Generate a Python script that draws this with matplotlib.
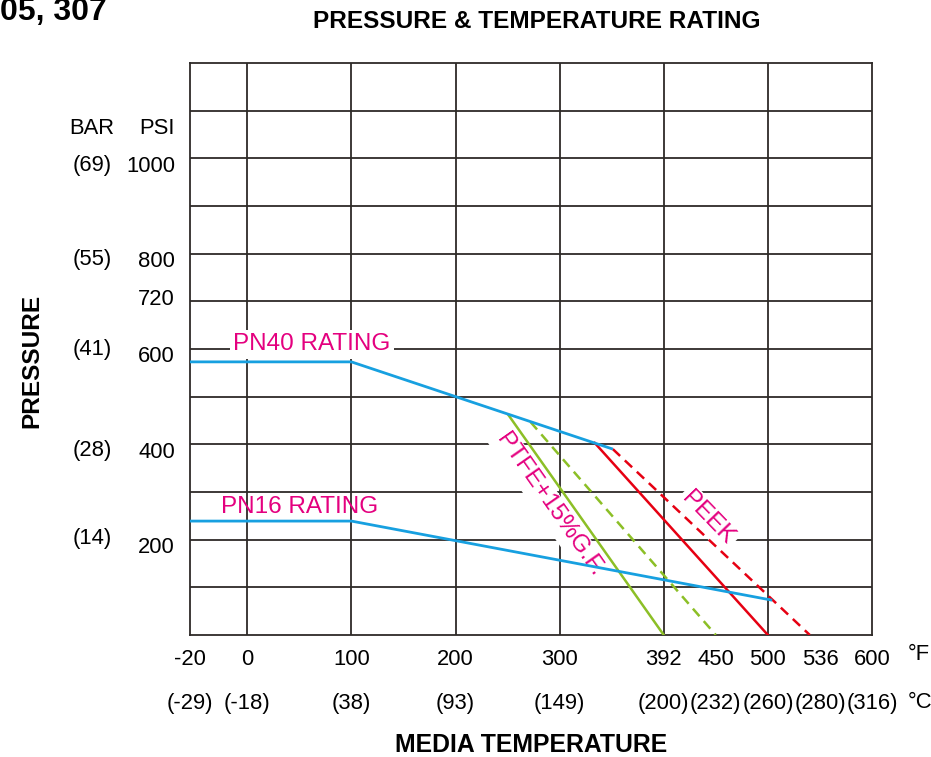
import numpy as np
import matplotlib
matplotlib.use('Agg')
import matplotlib.pyplot as plt
import matplotlib.transforms as mtransforms

plt.rcParams['font.family'] = ['Liberation Sans', 'DejaVu Sans']

# ---------------- data ----------------
temp_f_ticks = [-20, 0, 100, 200, 300, 392, 450, 500, 536, 600]
temp_f_labels = ['-20', '0', '100', '200', '300', '392', '450', '500', '536', '600']
temp_c_labels = ['(-29)', '(-18)', '(38)', '(93)', '(149)', '(200)', '(232)', '(260)', '(280)', '(316)']
psi_ticks = [200, 400, 600, 720, 800, 1000]
psi_labels = ['200', '400', '600', '720', '800', '1000']
bar_ticks = [200, 400, 600, 800, 1000]
bar_labels = ['(14)', '(28)', '(41)', '(55)', '(69)']

pn40_f = [-20, 100, 347]
pn40_psi = [573, 573, 390]
pn16_f = [-20, 100, 503]
pn16_psi = [239, 239, 73]
ptfe_f = [251, 392]
ptfe_psi = [461, 0]
ptfe_max_f = [272, 450]
ptfe_max_psi = [447, 0]
peek_f = [331, 500]
peek_psi = [403, 0]
peek_max_f = [347, 529]
peek_max_psi = [390, 0]

# ---------------- layout ----------------
W, H = 931, 757
fig = plt.figure(figsize=(W / 100, H / 100), dpi=100)
ax = fig.add_axes([190 / W, 1 - 635 / H, 682 / W, 572 / H])

# schematic (non-uniform) temperature axis
knots_f = np.array([-20, 0, 100, 200, 300, 392, 450, 500, 536, 600], dtype=float)
knots_pos = np.array([-55, 0, 100, 200, 300, 400, 450, 500, 550, 600], dtype=float)

def fwd(x):
    return np.interp(x, knots_f, knots_pos)

def inv(p):
    return np.interp(p, knots_pos, knots_f)

ax.set_xscale('function', functions=(fwd, inv))
ax.set_xlim(-20, 600)
ax.set_ylim(0, 1200)

grid_c = '#2e2a28'
for xv in [0, 100, 200, 300, 392, 500]:
    ax.axvline(xv, color=grid_c, lw=1.3, zorder=1)
for yv in range(100, 1200, 100):
    ax.axhline(yv, color=grid_c, lw=1.3, zorder=1)
for s in ax.spines.values():
    s.set_color(grid_c)
    s.set_linewidth(1.3)

blue = '#17a0e0'
green = '#8cbf26'
red = '#e60012'
mag = '#e4007f'

ax.plot(pn40_f, pn40_psi, color=blue, lw=2.0, zorder=4, solid_capstyle='butt')
ax.plot(pn16_f, pn16_psi, color=blue, lw=2.0, zorder=4, solid_capstyle='butt')
ax.plot(ptfe_f, ptfe_psi, color=green, lw=1.8, zorder=3)
ax.plot(ptfe_max_f, ptfe_max_psi, color=green, lw=1.8, ls=(0, (4, 2.6)), zorder=3)
ax.plot(peek_f, peek_psi, color=red, lw=1.8, zorder=3)
ax.plot(peek_max_f, peek_max_psi, color=red, lw=1.8, ls=(0, (4, 2.6)), zorder=3)

lab_fs = 17.5
wb = dict(facecolor='white', edgecolor='none', pad=2.5)
ax.text(-5, 610, 'PN40 RATING', color=mag, fontsize=lab_fs, ha='left', va='center',
        bbox=wb, zorder=2)
ax.text(-9, 268, 'PN16 RATING', color=mag, fontsize=lab_fs, ha='left', va='center', zorder=2)
ax.text(290, 272, 'PTFE+15%G.F.', color=mag, fontsize=lab_fs, ha='center', va='center',
        rotation=-55, rotation_mode='anchor', bbox=wb, zorder=2)
ax.text(441, 245, 'PEEK', color=mag, fontsize=lab_fs, ha='center', va='center',
        rotation=-46, rotation_mode='anchor', bbox=wb, zorder=2)

tick_fs = 15.8
# x tick labels
ax.set_xticks(temp_f_ticks)
ax.set_xticklabels(temp_f_labels, fontsize=tick_fs)
ax.tick_params(axis='x', length=0, pad=10)
ax.set_yticks([])

bt = mtransforms.blended_transform_factory(ax.transData, fig.transFigure)
for xv, lab in zip(temp_f_ticks, temp_c_labels):
    ax.text(xv, 1 - 704 / H, lab, transform=bt, fontsize=tick_fs, ha='center', va='center',
            clip_on=False)
fig.text(908 / W, 1 - 655 / H, '°F', fontsize=tick_fs, ha='left', va='center')
fig.text(908 / W, 1 - 702 / H, '°C', fontsize=tick_fs, ha='left', va='center')

# y labels
yt = mtransforms.blended_transform_factory(fig.transFigure, ax.transData)
for yv, lab in zip(psi_ticks, psi_labels):
    ax.text(175 / W, yv, lab, transform=yt + mtransforms.ScaledTranslation(0, -8 / 100, fig.dpi_scale_trans),
            fontsize=tick_fs, ha='right', va='center', clip_on=False)
bar_shift = [1, -6, 0, -6, -7]
for yv, lab, sh in zip(bar_ticks, bar_labels, bar_shift):
    ax.text(92 / W, yv, lab, transform=yt + mtransforms.ScaledTranslation(0, sh / 100, fig.dpi_scale_trans),
            fontsize=tick_fs, ha='center', va='center', clip_on=False)
fig.text(92 / W, 1 - 128 / H, 'BAR', fontsize=tick_fs, ha='center', va='center')
fig.text(175 / W, 1 - 128 / H, 'PSI', fontsize=tick_fs, ha='right', va='center')

# titles
fig.text(537 / W, 1 - 22 / H, 'PRESSURE & TEMPERATURE RATING', fontsize=17.6,
         fontweight='bold', ha='center', va='center')
fig.text(531 / W, 1 - 745 / H, 'MEDIA TEMPERATURE', fontsize=17.8,
         fontweight='bold', ha='center', va='center')
fig.text(32 / W, 1 - 361 / H, 'PRESSURE', fontsize=17.6, fontweight='bold',
         ha='center', va='center', rotation=90)
fig.text(0, 1 - 20 / H, '05, 307', fontsize=23, fontweight='bold', ha='left', va='baseline')

fig.savefig('out.png', dpi=100)
